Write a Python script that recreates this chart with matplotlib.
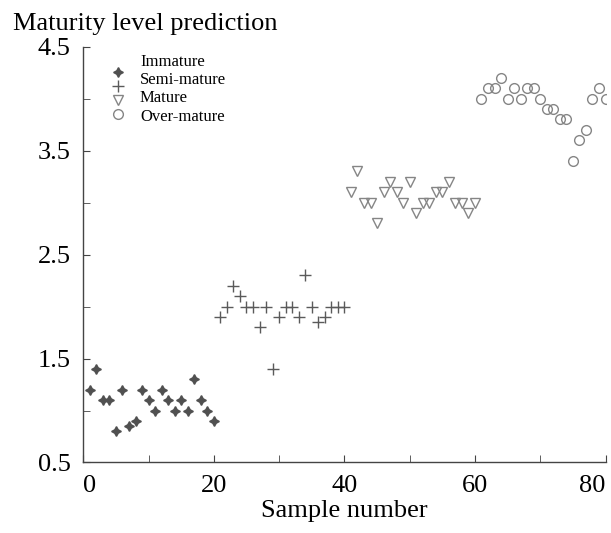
import numpy as np
import matplotlib
matplotlib.use("Agg")
import matplotlib.pyplot as plt

plt.rcParams['font.family'] = ['Liberation Serif', 'DejaVu Serif']

# sample numbers and predicted maturity levels
immature_x = list(range(1, 21))
immature_y = [1.2, 1.4, 1.1, 1.1, 0.8, 1.2, 0.85, 0.9, 1.2, 1.1,
              1.0, 1.2, 1.1, 1.0, 1.1, 1.0, 1.3, 1.1, 1.0, 0.9]

semi_x = list(range(21, 41))
semi_y = [1.9, 2.0, 2.2, 2.1, 2.0, 2.0, 1.8, 2.0, 1.4, 1.9,
          2.0, 2.0, 1.9, 2.3, 2.0, 1.85, 1.9, 2.0, 2.0, 2.0]

mature_x = list(range(41, 61))
mature_y = [3.1, 3.3, 3.0, 3.0, 2.8, 3.1, 3.2, 3.1, 3.0, 3.2,
            2.9, 3.0, 3.0, 3.1, 3.1, 3.2, 3.0, 3.0, 2.9, 3.0]

over_x = list(range(61, 81))
over_y = [4.0, 4.1, 4.1, 4.2, 4.0, 4.1, 4.0, 4.1, 4.1, 4.0,
          3.9, 3.9, 3.8, 3.8, 3.4, 3.6, 3.7, 4.0, 4.1, 4.0]

labels = ['Immature', 'Semi-mature', 'Mature', 'Over-mature']
x_ticks = [0, 20, 40, 60, 80]
x_minor = [10, 30, 50, 70]
y_ticks = [0.5, 1.5, 2.5, 3.5, 4.5]
y_minor = [1.0, 2.0, 3.0, 4.0]

styles = [
    dict(marker=(4, 1, 0), markersize=7, color='#505050'),
    dict(marker='+', markersize=9, markeredgewidth=1.0, color='#5a5a5a'),
    dict(marker='v', markersize=7, markerfacecolor='none',
         markeredgecolor='#858585', markeredgewidth=1.0),
    dict(marker='o', markersize=7, markerfacecolor='none',
         markeredgecolor='#858585', markeredgewidth=1.0),
]

fig = plt.figure(figsize=(6.11, 5.33), dpi=100)
ax = fig.add_axes([0.1363, 0.1323, 0.8547, 0.7801])

series = [(immature_x, immature_y), (semi_x, semi_y),
          (mature_x, mature_y), (over_x, over_y)]
for (xs, ys), st in zip(series, styles):
    ax.plot(xs, ys, linestyle='none', **st)

ax.set_xlim(0, 80)
ax.set_ylim(0.5, 4.5)
ax.set_xticks(x_ticks)
ax.set_xticks(x_minor, minor=True)
ax.set_yticks(y_ticks)
ax.set_yticks(y_minor, minor=True)

for side in ['top', 'right']:
    ax.spines[side].set_visible(False)
for side in ['left', 'bottom']:
    ax.spines[side].set_color('#444444')
    ax.spines[side].set_linewidth(1.0)

ax.tick_params(which='both', direction='in', colors='#444444',
               labelcolor='black', labelsize=19, length=5)
ax.tick_params(axis='x', pad=9)
ax.tick_params(axis='y', pad=9)

# keep the end labels inside the plot edges like the original
xt = ax.get_xticklabels()
xt[0].set_horizontalalignment('left')
xt[-1].set_horizontalalignment('right')

ax.set_xlabel('Sample number', fontsize=19, labelpad=2)
fig.text(0.021, 0.9437, 'Maturity level prediction', fontsize=19,
         ha='left', va='baseline')

# hand-made legend: markers sit a little lower than their labels
marker_y = [0.938, 0.905, 0.871, 0.838]
text_y = [0.964, 0.920, 0.876, 0.832]
for lab, st, my, ty in zip(labels, styles, marker_y, text_y):
    ax.plot([0.0665], [my], linestyle='none', transform=ax.transAxes,
            clip_on=False, **st)
    ax.text(0.1086, ty, lab, transform=ax.transAxes, fontsize=12,
            ha='left', va='center')

fig.savefig('out.png', dpi=100)
